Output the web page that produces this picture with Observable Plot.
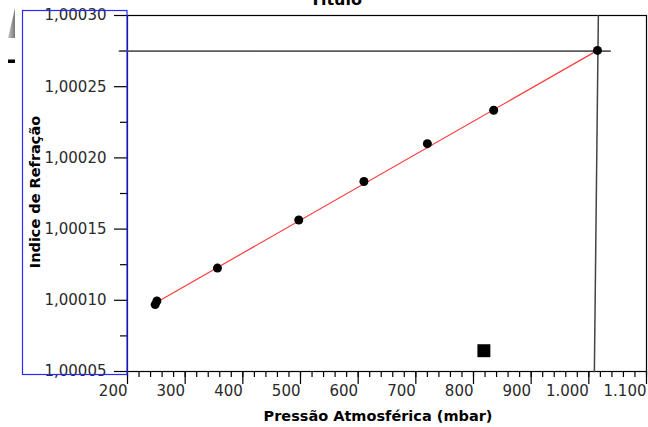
<!DOCTYPE html>
<html><head><meta charset="utf-8">
<script src="https://cdn.jsdelivr.net/npm/d3@7"></script>
<script src="https://cdn.jsdelivr.net/npm/@observablehq/plot@0.6"></script>
<style>
body{margin:0;background:#fff;}
#wrap{position:relative;width:648px;height:427px;overflow:hidden;background:#fff;}
#wrap svg.deco{position:absolute;left:0;top:0;pointer-events:none;}
</style></head><body><div id="wrap"></div>
<script>
// Data
const pressure   = [248, 251, 356, 497, 610, 720, 835, 1015];
const refraction = [1.000097, 1.0000995, 1.0001226, 1.0001564, 1.0001834, 1.00021, 1.0002335, 1.0002755];
const fitX = [250, 1015];
const fitY = [1.0000985, 1.0002755];
const markerX = [818];
const markerY = [1.0000646];
const hLineX = [186, 1037];
const hLineY = [1.000275, 1.000275];
const vLineX = [1016.5, 1009.6];
const vLineY = [1.0003, 1.00005];
// Ticks and labels
const xTicks = [200, 300, 400, 500, 600, 700, 800, 900, 1000, 1100];
const xMinor = d3.range(200, 1101, 20);
const yTicks = [1.00005, 1.0001, 1.00015, 1.0002, 1.00025, 1.0003];
const yMinor = [1.000075, 1.000125, 1.000175, 1.000225, 1.000275];
const title = "Título";
const xTitle = "Pressão Atmosférica (mbar)";
const yTitle = "Indice de Refração";

const points = pressure.map((p, i) => ({x: p, y: refraction[i]}));
const fit = fitX.map((x, i) => ({x, y: fitY[i]}));
const hLine = hLineX.map((x, i) => ({x, y: hLineY[i]}));
const vLine = vLineX.map((x, i) => ({x, y: vLineY[i]}));
const marker = markerX.map((x, i) => ({x, y: markerY[i]}));

const fmtX = d => d >= 1000 ? d3.format(",")(d).replace(/,/g, ".") : String(d);
const fmtY = d => d.toFixed(5).replace(".", ",");

const chart = Plot.plot({
  width: 648, height: 427,
  marginTop: 15, marginBottom: 56, marginLeft: 127, marginRight: 2,
  style: {fontFamily: "DejaVu Sans", fontSize: "15px", color: "#000", background: "#fff"},
  x: {domain: [200, 1100], label: null},
  y: {domain: [1.00005, 1.0003], label: null},
  marks: [
    Plot.frame({stroke: "#000", strokeWidth: 1.2}),
    Plot.axisX({ticks: xMinor, tickSize: 6, tickFormat: () => "", label: null, strokeWidth: 1.2}),
    Plot.axisX({ticks: xTicks, tickSize: 13, tickPadding: 1, textAnchor: "end", tickFormat: fmtX, label: null, fill: "#2a2a2a", strokeWidth: 1.2}),
    Plot.axisY({ticks: yMinor, tickSize: 7, tickFormat: () => "", label: null, strokeWidth: 1.2}),
    Plot.axisY({ticks: yTicks, tickSize: 13, tickPadding: 8, tickFormat: fmtY, label: null, fill: "#2a2a2a", strokeWidth: 1.2}),
    Plot.line(hLine, {x: "x", y: "y", stroke: "#5a5a5a", strokeWidth: 1.8}),
    Plot.line(vLine, {x: "x", y: "y", stroke: "#444", strokeWidth: 1.5}),
    Plot.line(fit, {x: "x", y: "y", stroke: "#ff3b3b", strokeWidth: 1.2}),
    Plot.dot(points, {x: "x", y: "y", r: 4.5, fill: "#000"}),
    Plot.dot(marker, {x: "x", y: "y", symbol: "square", r: 7.3, fill: "#000"}),
    Plot.text([xTitle], {frameAnchor: "bottom", dx: -9, dy: 45, textAnchor: "middle", lineAnchor: "middle", fontWeight: "bold", fontSize: 14.5, fill: "#000"}),
    Plot.text([yTitle], {frameAnchor: "left", dx: -92, dy: -1.5, rotate: -90, textAnchor: "middle", lineAnchor: "middle", fontWeight: "bold", fontSize: 14.5, fill: "#000"}),
    Plot.text([title], {frameAnchor: "top", dx: -51, dy: -11, textAnchor: "middle", lineAnchor: "bottom", fontWeight: "bold", fontSize: 16, fill: "#000"})
  ]
});
const wrap = document.getElementById("wrap");
wrap.appendChild(chart);

// Decorative overlay (selection box and small UI glyphs seen in the reference)
const ns = "http://www.w3.org/2000/svg";
const deco = document.createElementNS(ns, "svg");
deco.setAttribute("class", "deco");
deco.setAttribute("width", 648);
deco.setAttribute("height", 427);
deco.innerHTML = `
  <defs><linearGradient id="g" x1="0" x2="1"><stop offset="0" stop-color="#c8c8c8"/><stop offset="1" stop-color="#777"/></linearGradient></defs>
  <rect x="22.5" y="10.5" width="104.5" height="364" fill="none" stroke="#2828ff" stroke-width="1.2"/>
  <polygon points="15,8 15,38 8,38" fill="url(#g)"/>
  <rect x="8" y="59.5" width="7" height="3.5" fill="#000"/>`;
wrap.appendChild(deco);
</script></body></html>
